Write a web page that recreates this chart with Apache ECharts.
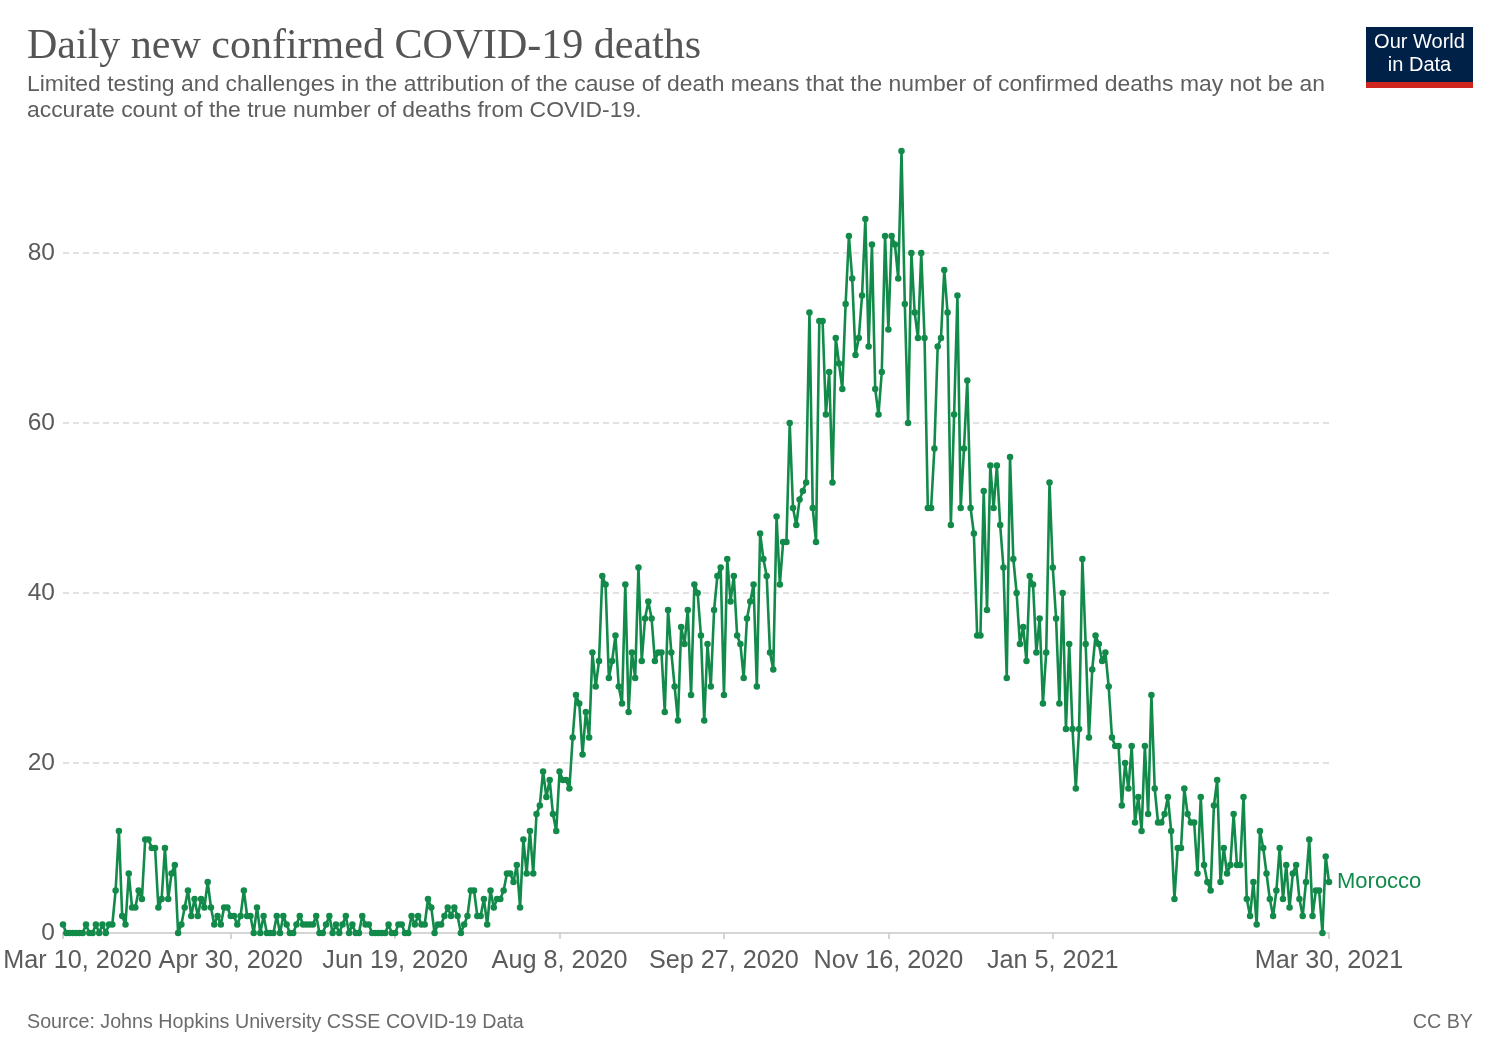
<!DOCTYPE html>
<html>
<head>
<meta charset="utf-8">
<title>Daily new confirmed COVID-19 deaths</title>
<script src="https://cdn.jsdelivr.net/npm/echarts@6/dist/echarts.min.js"></script>
<style>
  html, body { margin: 0; padding: 0; background: #fff; }
  #chart { width: 1500px; height: 1059px; }
</style>
</head>
<body>
<div id="chart"></div>
<script>
// daily new confirmed deaths, Morocco, from Mar 10, 2020
const startDate = [2020, 2, 10];
const deaths = [
  1,0,0,0,0,0,0,1,0,0, 1,0,1,0,1,1,5,12,2,1, 7,3,3,5,4,11,11,10,10,3,
  4,10,4,7,8,0,1,3,5,2, 4,2,4,3,6,3,1,2,1,3, 3,2,
  2,1,2,5,2, 2,0,3,0,2, 0,0,0,2,0, 2,1,0,0,1, 2,1,1,1,1, 2,0,0,1,2,
  0,1,0,1,2, 0,1,0,0,2, 1,1,0,0,0, 0,0,1,0,0, 1,1,0,0,
  2,1,2,1,1, 4,3,0,1,1, 2,3,2,3,2, 0,1,2,5,5, 2,2,4,1,5,
  3,4,4,5,7, 7,6,8,3,11, 7,12,7,14,15, 19,16,18,14,12, 19,
  18,18,17,23,28, 27,21,26,23,33, 29,32,42,41,30, 32,35,29,27,41,
  26,33,30,43,32, 37,39,37,32,33, 33,26,38,
  33,29,25,36,34, 38,28,41,40,35, 25,34,29,38,42, 43,28,44,39,42,
  35,34,30,37,39, 41,29,47,44,42, 33,31,49,41,46, 46,60,50,48,51,
  52,53,73,
  50,46,72,72,61, 66,53,70,67,64, 74,82,77,68,70, 75,84,69,81,64,
  61,66,82,71,82, 81,77,92,74,60, 80,73,70,80,70,
  50,50,57,69,70, 78,73,48,61,75, 50,57,65,50,47, 35,35,52,38,55,
  50,55,48,43,30, 56,44,40,34,36, 32,42,41,33,37, 27,33,53,
  43,37,27,40,24, 34,24,17,24,44, 34,23,31,35,34, 32,33,29,23,22,
  22,15,20,17,22, 13,16,12,22,14, 28,17,13,13,14, 16,12,4,10,10,
  17,14,13,13,7, 16,8,6,5,15, 18,6,10,7,8, 14,8,8,16,4,
  2,6,1,12,10, 7,4,2,5,10, 4,8,3,7,8, 4,2,6,11,2,
  5,5,0,9,6
];
const tickLabels = ['Mar 10, 2020', 'Apr 30, 2020', 'Jun 19, 2020', 'Aug 8, 2020',
  'Sep 27, 2020', 'Nov 16, 2020', 'Jan 5, 2021', 'Mar 30, 2021'];
const yTicks = [0, 20, 40, 60, 80];
const seriesName = 'Morocco';

const monthNames = ['Jan', 'Feb', 'Mar', 'Apr', 'May', 'Jun', 'Jul', 'Aug', 'Sep', 'Oct', 'Nov', 'Dec'];
const days = deaths.map((_, i) => {
  const d = new Date(Date.UTC(startDate[0], startDate[1], startDate[2] + i));
  return `${monthNames[d.getUTCMonth()]} ${d.getUTCDate()}, ${d.getUTCFullYear()}`;
});

const sans = '"Liberation Sans", Arial, Helvetica, sans-serif';
const green = '#128a4a';
const grey = '#5b5b5b';

const chart = echarts.init(document.getElementById('chart'), null, {renderer: 'canvas'});
const isTick = (i, v) => tickLabels.includes(v);

const option = {
  animation: false,
  backgroundColor: '#fff',
  title: [
    {
      text: 'Daily new confirmed COVID-19 deaths',
      left: 27,
      top: 26,
      padding: 0,
      textStyle: {fontFamily: '"Liberation Serif", "DejaVu Serif", serif', fontSize: 42, fontWeight: 'normal', color: '#555'},
    },
    {
      text: 'Limited testing and challenges in the attribution of the cause of death means that the number of confirmed deaths may not be an\naccurate count of the true number of deaths from COVID-19.',
      left: 27,
      top: 72,
      padding: 0,
      textStyle: {fontFamily: sans, fontSize: 22.9, fontWeight: 'normal', color: '#5e5e5e', lineHeight: 26},
    },
    {
      text: 'Source: Johns Hopkins University CSSE COVID-19 Data',
      left: 27,
      top: 1013,
      padding: 0,
      textStyle: {fontFamily: sans, fontSize: 19.7, fontWeight: 'normal', color: '#6b6b6b'},
    },
    {
      text: 'CC BY',
      right: 27,
      top: 1013,
      padding: 0,
      textStyle: {fontFamily: sans, fontSize: 19.7, fontWeight: 'normal', color: '#6b6b6b'},
    },
  ],
  graphic: [
    {
      type: 'group',
      left: 1366,
      top: 27,
      children: [
        {type: 'rect', shape: {x: 0, y: 0, width: 107, height: 55}, style: {fill: '#002147'}},
        {type: 'rect', shape: {x: 0, y: 55, width: 107, height: 6}, style: {fill: '#ce261e'}},
        {
          type: 'text',
          x: 53.5,
          y: 27,
          style: {
            text: 'Our World\nin Data',
            fill: '#fff',
            font: '20px ' + sans,
            align: 'center',
            verticalAlign: 'middle',
            lineHeight: 23,
          },
        },
      ],
    },
  ],
  grid: {left: 63, right: 171, top: 83, bottom: 126},
  xAxis: {
    type: 'category',
    data: days,
    boundaryGap: false,
    axisLine: {show: true, lineStyle: {color: '#c8c8c8', width: 1.5}},
    axisTick: {show: true, interval: isTick, length: 6, lineStyle: {color: '#c8c8c8', width: 1.5}},
    axisLabel: {
      interval: isTick,
      margin: 16,
      color: grey,
      fontFamily: sans,
      fontSize: 25.2,
      formatter: (v, i) => (i === 0 ? `{first|${v}}` : v),
      rich: {
        first: {padding: [0, 0, 0, 29], color: grey, fontFamily: sans, fontSize: 25.2},
      },
    },
    splitLine: {show: false},
  },
  yAxis: {
    type: 'value',
    min: 0,
    max: 100,
    interval: 20,
    axisLine: {show: false},
    axisTick: {show: false},
    axisLabel: {
      color: grey,
      fontFamily: sans,
      fontSize: 24.5,
      margin: 8,
      showMaxLabel: false,
      formatter: (v) => (yTicks.includes(v) ? String(v) : ''),
    },
    splitLine: {
      show: true,
      showMinLine: false,
      showMaxLine: false,
      lineStyle: {color: '#d9d9d9', type: [6, 4], width: 1.5},
    },
  },
  series: [
    {
      name: seriesName,
      type: 'line',
      data: deaths,
      showAllSymbol: true,
      symbol: 'circle',
      symbolSize: 6.5,
      itemStyle: {color: green},
      lineStyle: {color: green, width: 2.6},
      emphasis: {disabled: true},
      endLabel: {
        show: true,
        formatter: () => seriesName,
        color: green,
        fontFamily: sans,
        fontSize: 22,
        distance: 8,
      },
    },
  ],
};

chart.setOption(option);
</script>
</body>
</html>
